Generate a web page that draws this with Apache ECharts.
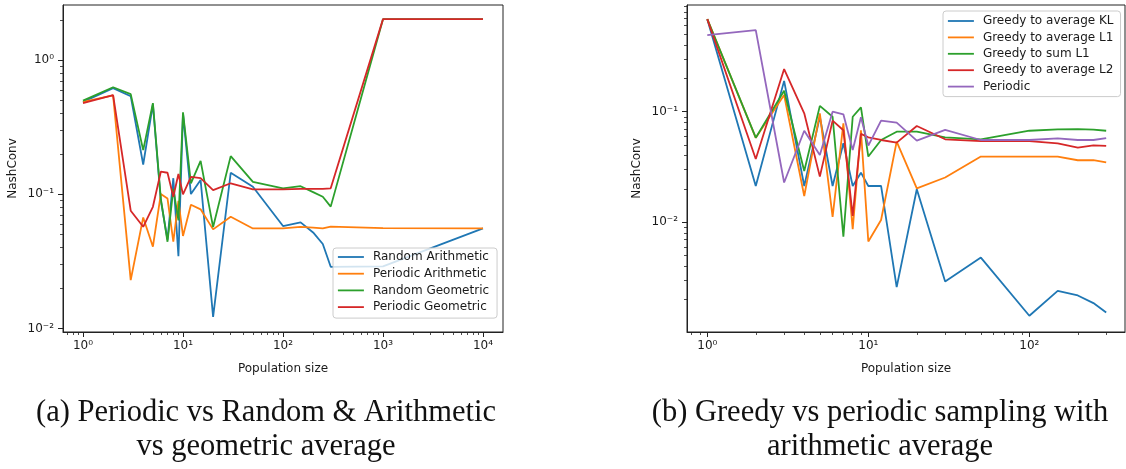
<!DOCTYPE html>
<html><head><meta charset="utf-8">
<script src="https://cdn.jsdelivr.net/npm/echarts@6/dist/echarts.min.js"></script>
<style>html,body{margin:0;padding:0;background:#fff}#c{width:1126px;height:469px}</style>
</head><body><div id="c"></div>
<script>
// ---- Data (a): Periodic vs Random & Arithmetic vs geometric average ----
const popA = [1, 2, 3, 4, 5, 6, 7, 8, 9, 10, 12, 15, 20, 30, 50, 100, 150, 200, 250, 300, 1000, 10000];
const randomArithmetic = [0.49, 0.62, 0.54, 0.167, 0.47, 0.09, 0.046, 0.132, 0.0346, 0.40, 0.1005, 0.128, 0.0122, 0.145, 0.114, 0.058, 0.0618, 0.052, 0.0426, 0.0288, 0.029, 0.0557];
const periodicArithmetic = [0.49, 0.547, 0.0229, 0.0673, 0.0407, 0.1005, 0.093, 0.0443, 0.0896, 0.0489, 0.0837, 0.0773, 0.0548, 0.068, 0.0557, 0.0557, 0.0572, 0.0565, 0.0557, 0.0575, 0.056, 0.0557];
const randomGeometric = [0.50, 0.63, 0.56, 0.214, 0.48, 0.093, 0.0443, 0.11, 0.064, 0.41, 0.121, 0.178, 0.057, 0.193, 0.124, 0.111, 0.115, 0.104, 0.096, 0.081, 2.03, 2.03];
const periodicGeometric = [0.48, 0.551, 0.0755, 0.0573, 0.0808, 0.1476, 0.145, 0.096, 0.142, 0.10, 0.135, 0.132, 0.1077, 0.121, 0.109, 0.109, 0.11, 0.11, 0.11, 0.111, 2.03, 2.03];

// ---- Data (b): Greedy vs periodic sampling with arithmetic average ----
const popB = [1, 2, 3, 4, 5, 6, 7, 8, 9, 10, 12, 15, 20, 30, 50, 100, 150, 200, 250, 300];
const greedyAvgKL = [0.687, 0.0213, 0.19, 0.0213, 0.09, 0.0213, 0.0518, 0.0213, 0.0281, 0.0213, 0.0213, 0.00259, 0.0199, 0.00291, 0.0048, 0.00143, 0.0024, 0.00218, 0.00186, 0.00153];
const greedyAvgL1 = [0.687, 0.058, 0.1415, 0.0173, 0.0967, 0.0112, 0.0785, 0.00865, 0.068, 0.0067, 0.0105, 0.0536, 0.0203, 0.0254, 0.0393, 0.0393, 0.0393, 0.0364, 0.0365, 0.0349];
const greedySumL1 = [0.687, 0.0582, 0.155, 0.0291, 0.113, 0.09, 0.00743, 0.09, 0.1095, 0.0393, 0.0555, 0.066, 0.066, 0.0587, 0.0563, 0.0673, 0.0693, 0.0695, 0.069, 0.0673];
const greedyAvgL2 = [0.687, 0.0374, 0.243, 0.0967, 0.0259, 0.083, 0.068, 0.0114, 0.063, 0.0587, 0.0555, 0.0525, 0.0743, 0.0563, 0.0543, 0.0543, 0.0518, 0.0473, 0.0497, 0.049];
const periodic = [0.493, 0.547, 0.0229, 0.0673, 0.0407, 0.1, 0.0947, 0.045, 0.089, 0.0494, 0.083, 0.0796, 0.0547, 0.0684, 0.0555, 0.0555, 0.0575, 0.0555, 0.0555, 0.0578];

const captionA = ['(a) Periodic vs Random & Arithmetic', 'vs geometric average'];
const captionB = ['(b) Greedy vs periodic sampling with', 'arithmetic average'];
const xName = 'Population size';
const yName = 'NashConv';

// ---- helpers ----
const colors = ['#1f77b4', '#ff7f0e', '#2ca02c', '#d62728', '#9467bd'];
const SUP = {'0':'⁰','1':'¹','2':'²','3':'³','4':'⁴','5':'⁵','6':'⁶','7':'⁷','8':'⁸','9':'⁹','-':'⁻'};
function pow10Label(v) {
  const e = Math.round(Math.log10(v));
  return '10' + String(e).split('').map(c => SUP[c]).join('');
}
function majors(lo, hi) {
  const out = [];
  for (let e = Math.floor(lo); e <= Math.ceil(hi); e++) {
    if (e >= lo - 1e-9 && e <= hi + 1e-9) out.push(Math.pow(10, e));
  }
  return out;
}
function minors(lo, hi) {
  const out = [];
  for (let e = Math.floor(lo); e <= Math.ceil(hi); e++) {
    for (let m = 2; m <= 9; m++) {
      const v = m * Math.pow(10, e);
      const l = Math.log10(v);
      if (l >= lo && l <= hi) out.push(v);
    }
  }
  return out;
}
const pairs = (xs, ys) => xs.map((x, i) => [x, ys[i]]);

const RA = { x: [-0.2, 4.2], y: [-2.027, 0.413] };
const RB = { x: [-0.126, 2.594], y: [-2.992, -0.035] };

const txt = '#1a1a1a';
const FONT = 'DejaVu Sans';
const CAPFONT = '30.5px "Liberation Serif"';

function majorAxis(gridIndex, r, isX) {
  return {
    type: 'log', gridIndex: gridIndex,
    position: isX ? 'bottom' : 'left',
    min: Math.pow(10, r[0]), max: Math.pow(10, r[1]),
    axisLine: { show: true, lineStyle: { color: '#222', width: 1 } },
    axisTick: { show: true, inside: false, length: 5, lineStyle: { color: '#222', width: 1 }, customValues: majors(r[0], r[1]) },
    axisLabel: { show: true, color: txt, fontSize: 12, fontFamily: FONT, margin: isX ? 8 : 9, customValues: majors(r[0], r[1]), formatter: pow10Label },
    splitLine: { show: false },
    minorTick: { show: false },
    name: isX ? xName : yName,
    nameLocation: 'middle',
    nameGap: isX ? 31 : 44,
    nameTextStyle: { color: txt, fontSize: 12, fontFamily: FONT }
  };
}
function minorAxis(gridIndex, r, isX) {
  return {
    type: 'log', gridIndex: gridIndex,
    position: isX ? 'bottom' : 'left',
    min: Math.pow(10, r[0]), max: Math.pow(10, r[1]),
    axisLine: { show: false },
    axisTick: { show: true, inside: false, length: 3, lineStyle: { color: '#222', width: 0.8 }, customValues: minors(r[0], r[1]) },
    axisLabel: { show: false },
    splitLine: { show: false }
  };
}

const lineSeries = (name, xAxisIndex, yAxisIndex, data, color) => ({
  name: name, type: 'line', xAxisIndex: xAxisIndex, yAxisIndex: yAxisIndex,
  data: data, symbol: 'none', showSymbol: false, smooth: false,
  lineStyle: { color: color, width: 1.8 }, itemStyle: { color: color },
  emphasis: { disabled: true }, animation: false
});

const namesA = ['Random Arithmetic', 'Periodic Arithmetic', 'Random Geometric', 'Periodic Geometric'];
const namesB = ['Greedy to average KL', 'Greedy to average L1', 'Greedy to sum L1', 'Greedy to average L2', 'Periodic'];

const legendBase = {
  orient: 'vertical', itemWidth: 26, itemHeight: 14,
  itemStyle: { opacity: 0, borderWidth: 0 },
  lineStyle: { width: 1.8 },
  backgroundColor: 'rgba(255,255,255,0.8)', borderColor: '#cccccc', borderWidth: 1, borderRadius: 3,
  textStyle: { color: txt, fontSize: 12, fontFamily: FONT, padding: [0, 0, 0, 4] },
  selectedMode: false
};

const chart = echarts.init(document.getElementById('c'), null, { renderer: 'canvas' });
chart.setOption({
  animation: false,
  backgroundColor: '#ffffff',
  textStyle: { fontFamily: FONT },
  grid: [
    { left: 63, top: 5, width: 440, height: 327, show: true, borderColor: '#222', borderWidth: 1, backgroundColor: 'transparent' },
    { left: 687, top: 5, width: 438, height: 327, show: true, borderColor: '#222', borderWidth: 1, backgroundColor: 'transparent' }
  ],
  xAxis: [majorAxis(0, RA.x, true), minorAxis(0, RA.x, true), majorAxis(1, RB.x, true), minorAxis(1, RB.x, true)],
  yAxis: [majorAxis(0, RA.y, false), minorAxis(0, RA.y, false), majorAxis(1, RB.y, false), minorAxis(1, RB.y, false)],
  legend: [
    Object.assign({}, legendBase, { data: namesA, left: 333, top: 248, itemGap: 4.7, padding: [3, 8, 5, 4] }),
    Object.assign({}, legendBase, { data: namesB, left: 943, top: 11, itemGap: 4.4, padding: [4, 7, 4, 4] })
  ],
  series: [
    lineSeries(namesA[0], 0, 0, pairs(popA, randomArithmetic), colors[0]),
    lineSeries(namesA[1], 0, 0, pairs(popA, periodicArithmetic), colors[1]),
    lineSeries(namesA[2], 0, 0, pairs(popA, randomGeometric), colors[2]),
    lineSeries(namesA[3], 0, 0, pairs(popA, periodicGeometric), colors[3]),
    lineSeries(namesB[0], 2, 2, pairs(popB, greedyAvgKL), colors[0]),
    lineSeries(namesB[1], 2, 2, pairs(popB, greedyAvgL1), colors[1]),
    lineSeries(namesB[2], 2, 2, pairs(popB, greedySumL1), colors[2]),
    lineSeries(namesB[3], 2, 2, pairs(popB, greedyAvgL2), colors[3]),
    lineSeries(namesB[4], 2, 2, pairs(popB, periodic), colors[4])
  ],
  graphic: [
    { type: 'text', x: 266, y: 413, style: { text: captionA[0], align: 'center', verticalAlign: 'middle', font: CAPFONT, fill: '#111' } },
    { type: 'text', x: 266, y: 447, style: { text: captionA[1], align: 'center', verticalAlign: 'middle', font: CAPFONT, fill: '#111' } },
    { type: 'text', x: 880, y: 413, style: { text: captionB[0], align: 'center', verticalAlign: 'middle', font: CAPFONT, fill: '#111' } },
    { type: 'text', x: 880, y: 447, style: { text: captionB[1], align: 'center', verticalAlign: 'middle', font: CAPFONT, fill: '#111' } }
  ]
});
</script>
</body></html>
